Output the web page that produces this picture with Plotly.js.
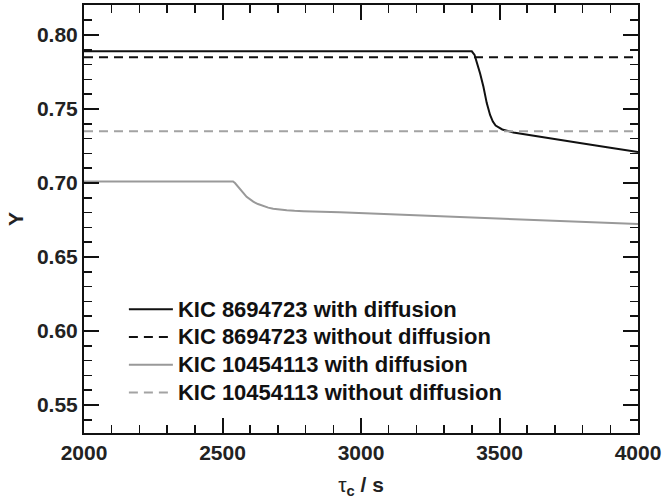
<!DOCTYPE html>
<html>
<head>
<meta charset="utf-8">
<script src="https://cdn.plot.ly/plotly-3.0.1.min.js"></script>
<style>html,body{margin:0;padding:0;background:#fff;}#chart{width:663px;height:499px;}</style>
</head>
<body>
<div id="chart"></div>
<script>
// KIC 8694723 with diffusion
const tauA = [2000, 3400, 3410, 3420, 3430, 3442, 3454, 3466, 3476, 3486, 3498, 3510, 3550, 3650, 3790, 3900, 4000];
const yA   = [0.789, 0.789, 0.7865, 0.781, 0.774, 0.765, 0.754, 0.746, 0.7415, 0.7388, 0.7372, 0.7362, 0.7342, 0.7310, 0.7270, 0.7238, 0.7210];
// KIC 8694723 without diffusion
const tauB = [2000, 4000];
const yB   = [0.785, 0.785];
// KIC 10454113 with diffusion
const tauC = [2000, 2538, 2545, 2552, 2563, 2575, 2587, 2599, 2611, 2628, 2647, 2665, 2683, 2705, 2732, 2760, 2792, 2924, 3500, 4000];
const yC   = [0.701, 0.701, 0.7000, 0.6986, 0.6964, 0.6934, 0.6907, 0.6889, 0.6874, 0.6858, 0.6845, 0.6834, 0.6826, 0.6820, 0.6816, 0.6812, 0.6809, 0.6802, 0.6760, 0.6723];
// KIC 10454113 without diffusion
const tauD = [2000, 4000];
const yD   = [0.735, 0.735];

const names = [
  "KIC 8694723 with diffusion",
  "KIC 8694723 without diffusion",
  "KIC 10454113 with diffusion",
  "KIC 10454113 without diffusion"
];

const lbl = s => "<span style='font-size:22px'>" + s + "</span>";

const traces = [
  {x: tauA, y: yA, name: lbl(names[0]), mode: "lines", line: {color: "#111111", width: 2}},
  {x: tauB, y: yB, name: lbl(names[1]), mode: "lines", line: {color: "#111111", width: 2, dash: "9px,6px"}},
  {x: tauC, y: yC, name: lbl(names[2]), mode: "lines", line: {color: "#999999", width: 2}},
  {x: tauD, y: yD, name: lbl(names[3]), mode: "lines", line: {color: "#a3a3a3", width: 2, dash: "9px,6px"}}
];

const fontFam = "Liberation Sans, Arial, sans-serif";

const axisCommon = {
  showline: true, linewidth: 2, linecolor: "#111",
  mirror: "allticks", ticks: "inside", ticklen: 15, tickwidth: 2, tickcolor: "#111",
  showgrid: false, zeroline: false,
  tickfont: {family: fontFam, size: 21, color: "#222", weight: "bold"}
};

const layout = {
  width: 663, height: 499,
  margin: {l: 84, r: 25, t: 5, b: 66},
  paper_bgcolor: "#fff", plot_bgcolor: "#fff",
  showlegend: true,
  legend: {
    x: 0.072, y: 0.333, xanchor: "left", yanchor: "top",
    bgcolor: "rgba(0,0,0,0)", itemwidth: 44,
    font: {family: fontFam, size: 19, color: "#111", weight: "bold"},
    tracegroupgap: 0
  },
  xaxis: Object.assign({}, axisCommon, {
    range: [2000, 4000], dtick: 500, tick0: 2000,
    minor: {dtick: 100, ticklen: 8, tickwidth: 1.5, ticks: "inside", tickcolor: "#111"},
    title: {text: "<span style='font-weight:normal'>τ</span><sub>c</sub> / s", standoff: 14,
            font: {family: fontFam, size: 21, color: "#222", weight: "bold"}}
  }),
  yaxis: Object.assign({}, axisCommon, {
    range: [0.5311, 0.8203], dtick: 0.05, tick0: 0.55, tickformat: ".2f",
    minor: {dtick: 0.01, ticklen: 8, tickwidth: 1.5, ticks: "inside", tickcolor: "#111"},
    title: {text: "Y", standoff: 8,
            font: {family: fontFam, size: 21, color: "#222", weight: "bold"}}
  })
};

Plotly.newPlot("chart", traces, layout, {staticPlot: true, displayModeBar: false});
</script>
</body>
</html>
